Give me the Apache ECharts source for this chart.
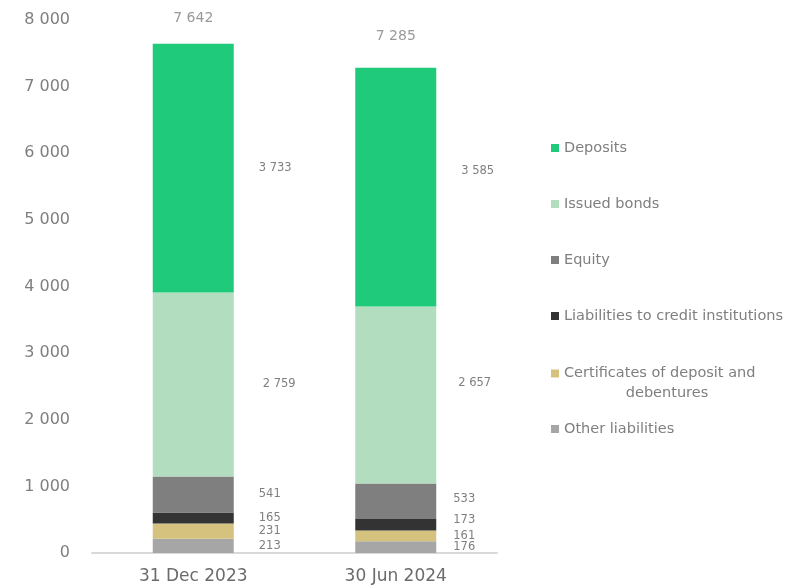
<!DOCTYPE html>
<html lang="en">
<head>
    <meta charset="UTF-8">
    <title>Liabilities</title>
    <script src="https://cdn.jsdelivr.net/npm/echarts@6/dist/echarts.min.js"></script>
    <style>
        html, body { margin: 0; padding: 0; background: #fff; }
        #main { width: 786px; height: 587px; }
    </style>
</head>
<body>
<div id="main"></div>
<script type="text/javascript">
    // data
    var categories = ['31 Dec 2023', '30 Jun 2024'];
    var otherLiabilities = [213, 176];
    var certificates = [231, 161];
    var creditInstitutions = [165, 173];
    var equity = [541, 533];
    var issuedBonds = [2759, 2657];
    var deposits = [3733, 3585];
    var totals = [7642, 7285];

    var fontName = 'DejaVu Sans';
    var grey = '#7f7f7f';

    // hand placed label nudges as in the original, [dx, dy] per bar
    var labelNudge = {
        'Other liabilities': [[0, 0], [-8, 0]],
        'Certificates of deposit and debentures': [[0, 0], [-8, 0]],
        'Liabilities to credit institutions': [[0, 0], [-8, -5]],
        'Equity': [[0, 0], [-8, -2]],
        'Issued bonds': [[4, 0], [-3, -12]],
        'Deposits': [[0, 0], [0, -16]]
    };

    function fmt(v) {
        return String(v).replace(/\B(?=(\d{3})+(?!\d))/g, ' ');
    }

    function barSeries(name, values, color) {
        var nudge = labelNudge[name];
        return {
            name: name,
            type: 'bar',
            stack: 'total',
            barWidth: '40%',
            data: values.map(function (v, i) {
                return {value: v, label: {offset: nudge[i]}};
            }),
            itemStyle: {color: color},
            label: {
                show: true,
                position: 'right',
                distance: 25,
                color: grey,
                fontFamily: fontName,
                fontSize: 11.5,
                formatter: function (p) { return fmt(p.value); }
            }
        };
    }

    var legendText = {
        color: grey,
        fontFamily: fontName,
        fontSize: 14.5
    };

    function legendBox(names, top, gap, extra) {
        var box = {
            orient: 'vertical',
            left: 551,
            top: top,
            padding: 0,
            itemWidth: 8,
            itemHeight: 8,
            itemGap: gap,
            icon: 'rect',
            data: names,
            textStyle: legendText
        };
        for (var k in extra) box[k] = extra[k];
        return box;
    }

    var myChart = echarts.init(document.getElementById('main'));

    var option = {
        backgroundColor: '#ffffff',
        animation: false,
        grid: {left: 92, right: 289, top: 20, bottom: 34},
        legend: [
            legendBox(['Deposits', 'Issued bonds', 'Equity', 'Liabilities to credit institutions'], 140.5, 41, {}),
            legendBox(['Certificates of deposit and debentures'], 346, 0, {
                formatter: function () {
                    return '{e| }\n{a|Certificates of deposit and}\n{b|debentures}';
                },
                textStyle: {
                    color: grey,
                    fontFamily: fontName,
                    fontSize: 14.5,
                    rich: {
                        e: {lineHeight: 20, fontSize: 14.5},
                        a: {width: 206, align: 'left', lineHeight: 20, color: grey, fontFamily: fontName, fontSize: 14.5},
                        b: {width: 206, align: 'center', lineHeight: 20, color: grey, fontFamily: fontName, fontSize: 14.5}
                    }
                }
            }),
            legendBox(['Other liabilities'], 421.5, 0, {})
        ],
        xAxis: {
            type: 'category',
            data: categories,
            axisLine: {lineStyle: {color: '#d9d9d9', width: 2}},
            axisTick: {show: false},
            axisLabel: {color: '#6b6b6b', fontFamily: fontName, fontSize: 17, margin: 15}
        },
        yAxis: {
            type: 'value',
            min: 0,
            max: 8000,
            interval: 1000,
            splitLine: {show: false},
            axisLine: {show: false},
            axisTick: {show: false},
            axisLabel: {
                color: grey,
                fontFamily: fontName,
                fontSize: 16,
                margin: 22,
                formatter: function (v) { return fmt(v); }
            }
        },
        series: [
            barSeries('Other liabilities', otherLiabilities, '#a6a6a6'),
            barSeries('Certificates of deposit and debentures', certificates, '#d6c27f'),
            barSeries('Liabilities to credit institutions', creditInstitutions, '#333333'),
            barSeries('Equity', equity, '#7f7f7f'),
            barSeries('Issued bonds', issuedBonds, '#b3ddbf'),
            barSeries('Deposits', deposits, '#1fca7a'),
            {
                name: 'Total',
                type: 'scatter',
                data: totals.map(function (v, i) {
                    return {value: v, label: {offset: [0, i === 0 ? 0 : -6]}};
                }),
                symbolSize: 0,
                silent: true,
                label: {
                    show: true,
                    position: 'top',
                    distance: 18,
                    color: grey,
                    fontFamily: fontName,
                    fontSize: 14,
                    formatter: function (p) { return fmt(p.value); }
                }
            }
        ]
    };

    myChart.setOption(option);
</script>
</body>
</html>
